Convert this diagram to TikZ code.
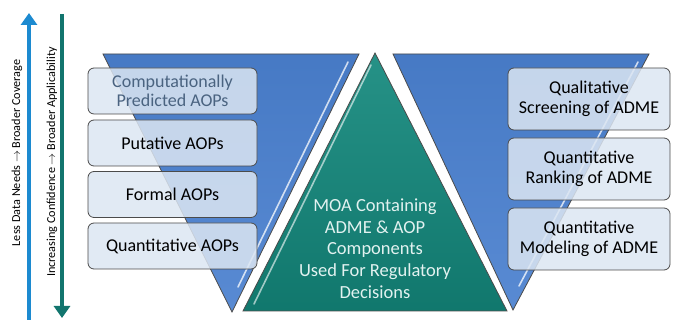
\documentclass[tikz,border=0pt]{standalone}
\usepackage{fontspec}
\setmainfont{Carlito}
\usetikzlibrary{arrows.meta}
\definecolor{ink}{HTML}{2B2B2B}
\definecolor{vblue}{HTML}{4A80CF}
\definecolor{vteal}{HTML}{13887C}
\definecolor{boxfill}{HTML}{DCE6F2}
\definecolor{slate}{HTML}{4A6380}
\definecolor{moatext}{HTML}{E2F2F0}
\definecolor{arrowblue}{HTML}{1C8AD0}
\definecolor{arrowteal}{HTML}{12756E}

\begin{document}
\begin{tikzpicture}[x=1pt,y=1pt,font=\fontsize{18}{19.5}\selectfont,
  tri/.style={draw=ink!85,line width=.8pt},
  gloss/.style={white,opacity=.75,line width=1.6pt,line cap=round},
  stage/.style={draw=ink!85,line width=.8pt,rounded corners=6pt,fill=boxfill,
    fill opacity=.85,text opacity=1,align=center,inner sep=0pt,
    minimum width=169pt,minimum height=46pt},
  adme/.style={stage,minimum width=162pt,minimum height=62pt},
  side/.style={line width=4.5pt,-{Triangle[width=16pt,length=12pt]}},
  sidelbl/.style={rotate=90,font=\fontsize{12.2}{13}\selectfont}]
  \useasboundingbox (0,0) rectangle (674,320);

  % side arrows
  \coordinate (lessbot) at (29,0);
  \coordinate (lesstop) at (29,307);
  \coordinate (conftop) at (62,306);
  \coordinate (confbot) at (62,2);
  \draw[side,arrowblue] (lessbot) -- (lesstop);
  \draw[side,arrowteal] (conftop) -- (confbot);
  \node[sidelbl] (lesslbl) at (17,167) {Less Data Needs $\rightarrow$ Broader Coverage};
  \node[sidelbl] (conflbl) at (52,158) {Increasing Confidence $\rightarrow$ Broader Applicability};

  % the three triangles
  \draw[tri,top color=vblue!95!black,bottom color=vblue!92!white]
    (103,266) -- (359,266) -- (232,8) -- cycle;
  \draw[tri,top color=vblue!95!black,bottom color=vblue!92!white]
    (393,266) -- (649,266) -- (513,10) -- cycle;
  \draw[tri,top color=vteal!92!white,bottom color=vteal!88!black]
    (375,267) -- (507,9) -- (243,9) -- cycle;
  \draw[gloss] (348,258) -- (238,33);
  \draw[gloss] (638,258) -- (519,34);
  \draw[gloss,opacity=.6] (371,255) -- (254,16);

  % AOP stages
  \node[stage,text=slate] (cpaop) at (172.5,229) {Computationally\\Predicted AOPs};
  \node[stage] (putaop) at (172.5,177) {Putative AOPs};
  \node[stage] (formaop) at (172.5,125.5) {Formal AOPs};
  \node[stage] (quantaop) at (172.5,74) {Quantitative AOPs};

  % ADME stages
  \node[adme] (qualscr) at (589,221) {Qualitative\\Screening of ADME};
  \node[adme] (quantrank) at (589,151) {Quantitative\\Ranking of ADME};
  \node[adme] (quantmod) at (589,81) {Quantitative\\Modeling of ADME};

  \node[text=moatext,align=center,font=\fontsize{18.5}{21.7}\selectfont] (moa) at (375,71.5)
    {MOA Containing\\ADME \& AOP\\Components\\Used For Regulatory\\Decisions};
\end{tikzpicture}
\end{document}
